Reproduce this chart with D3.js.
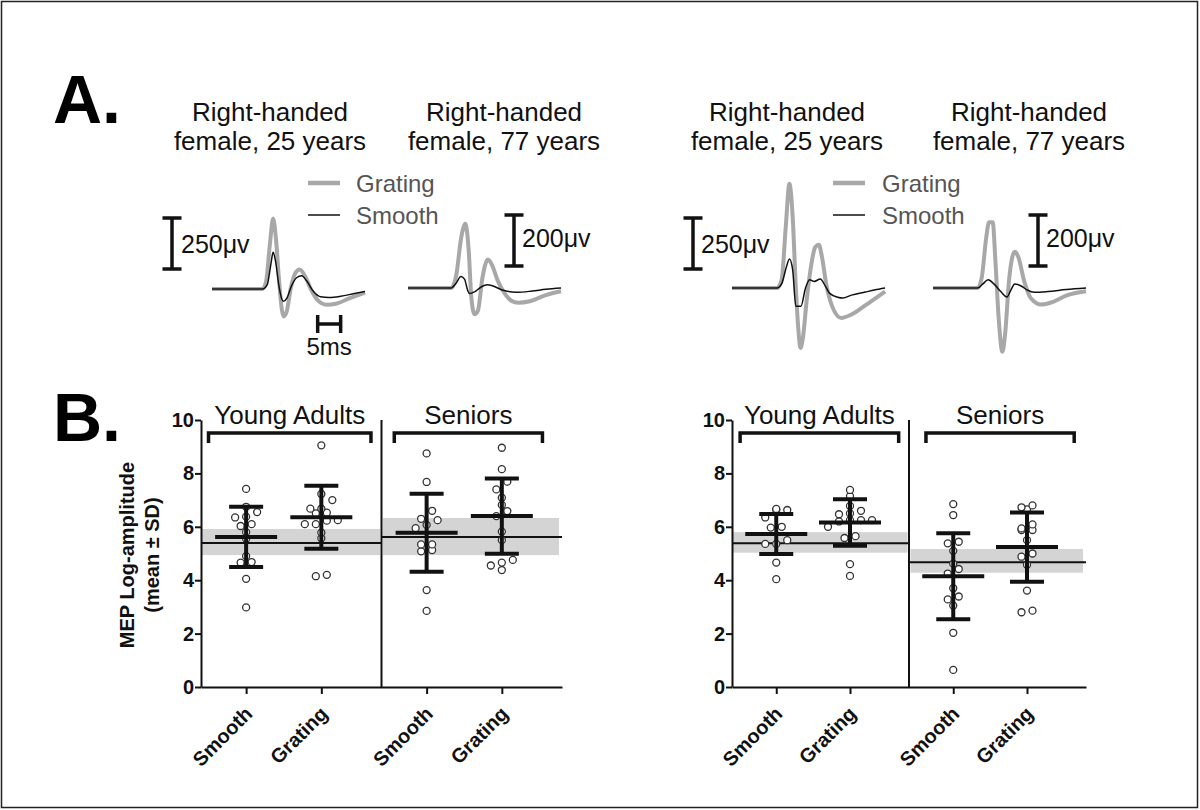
<!DOCTYPE html>
<html><head><meta charset="utf-8">
<script src="https://cdn.jsdelivr.net/npm/d3@7"></script>
<style>
body{margin:0;background:#fff}
svg{display:block}
text{font-family: Arial, "Liberation Sans", sans-serif}
</style>
</head><body>
<svg id="c" width="1200" height="810"></svg>
<script>
// ---------------- DATA ----------------
// Panel A: example MEP traces, [time ms, amplitude µV]
const traceTitles = [["Right-handed","female, 25 years"],["Right-handed","female, 77 years"],["Right-handed","female, 25 years"],["Right-handed","female, 77 years"]];
const scaleBarValues = [250, 200, 250, 200];
const scaleBarLabels = ["250\u03bcv","200\u03bcv","250\u03bcv","200\u03bcv"];
const timeBarMs = 5;
const timeBarLabel = "5ms";
const legendLabels = ["Grating","Smooth"];

const traceYoungLeftGrating = [[0,0],[11,0],[11.8,40],[12.6,220],[13.3,345],[13.9,250],[14.6,40],[15.2,-100],[15.6,-135],[16.2,-115],[17.2,10],[18.2,80],[19.1,95],[20.2,65],[21.5,0],[23,-55],[24.9,-77],[27,-72],[30,-45],[33.3,-17]];
const traceYoungLeftSmooth = [[0,0],[11,0],[12,20],[12.8,120],[13.3,180],[13.8,140],[14.6,10],[15.2,-50],[15.6,-60],[16.3,-45],[17.3,15],[18.4,55],[19.5,65],[20.6,40],[22,-10],[23.6,-38],[25.5,-42],[28,-36],[31,-22],[33.3,-12]];
const traceSeniorLeftGrating = [[0,0],[9.4,0],[10.5,50],[11.6,200],[12.5,252],[13.2,150],[13.8,-40],[14.5,-103],[15.2,-90],[16.2,40],[17.4,112],[18.3,90],[19.5,30],[21,-20],[22.5,-50],[24,-58],[26.5,-52],[30,-28],[33.3,-13]];
const traceSeniorLeftSmooth = [[0,0],[9.4,0],[10.5,20],[11.5,45],[12.3,35],[13.0,-10],[13.4,-22],[14.5,-15],[16,5],[17.2,13],[18.5,8],[20.5,-8],[23.6,-17],[27,-12],[30,-5],[33.3,0]];
const traceYoungRightGrating = [[0,0],[9.8,0],[10.8,40],[11.7,300],[12.5,511],[13.2,350],[13.9,0],[14.5,-220],[14.9,-294],[15.4,-250],[16.3,-50],[17.3,120],[18.1,200],[18.9,212],[19.6,150],[20.5,20],[21.8,-90],[23.8,-147],[26,-130],[29,-85],[33.3,-17]];
const traceYoungRightSmooth = [[0,0],[9.8,0],[10.8,20],[11.8,100],[12.5,142],[13.2,90],[13.9,-90],[15.0,-90],[16.0,0],[16.9,41],[17.9,32],[19.2,44],[20.3,10],[21.2,-25],[23.0,-45],[24.1,-49],[26,-35],[29,-20],[31,-10],[33.3,0]];
const traceSeniorRightGrating = [[0,0],[9.7,0],[10.6,40],[11.6,200],[12.2,258],[13.0,258],[13.6,100],[14.3,-120],[15.1,-250],[15.7,-180],[16.6,40],[17.8,142],[18.6,120],[19.8,30],[21.3,-40],[23.6,-65],[26,-55],[29,-30],[33.3,-13]];
const traceSeniorRightSmooth = [[0,0],[9.7,0],[10.8,15],[12.0,32],[13.3,15],[14.8,-15],[16.1,-35],[16.9,-10],[17.8,16],[19.2,8],[20.5,-8],[22.1,-17],[25,-14],[29,-6],[33.3,0]];

// Panel B: MEP log-amplitude
const groupNames = ["Young Adults","Seniors"];
const conditionNames = ["Smooth","Grating"];
const yTickValues = [0,2,4,6,8,10];
const yTitle = ["MEP Log-amplitude","(mean \u00b1 SD)"];

const leftYoungSmooth  = [7.42,6.75,6.55,6.38,6.35,6.1,6.03,5.8,5.55,4.9,4.68,4.66,4.05,2.98];
const leftYoungGrating = [9.05,7.23,7.0,6.68,6.68,6.53,6.5,6.23,6.25,6.1,6.1,5.78,5.57,4.15,4.2];
const leftSeniorSmooth = [8.75,7.68,6.6,6.3,6.25,6.07,5.95,5.34,5.34,5.13,5.08,3.63,2.85];
const leftSeniorGrating= [8.96,8.16,7.69,7.4,7.09,6.82,6.59,6.4,5.82,5.5,4.76,4.66,4.55,4.38];
const leftMeans = [5.62,6.36,5.78,6.40];
const leftSDs   = [1.13,1.18,1.46,1.41];
const leftGroupMeans = [5.39,5.62];
const leftGroupLow   = [4.94,4.94];
const leftGroupHigh  = [5.92,6.33];

const rightYoungSmooth  = [6.63,6.67,6.63,6.35,6.0,5.97,5.5,5.36,5.36,4.66,4.04];
const rightYoungGrating = [7.38,7.15,6.78,6.6,6.47,6.5,6.25,6.2,6.25,6.25,5.58,5.65,4.6,4.16,6.0];
const rightSeniorSmooth = [6.85,6.44,5.38,5.44,5.1,4.62,4.42,4.25,3.7,3.28,3.39,3.05,2.03,0.64];
const rightSeniorGrating= [6.73,6.65,6.8,6.09,5.94,5.88,5.88,5.5,4.88,5.0,4.58,3.61,2.8,2.86];
const rightMeans = [5.73,6.16,4.15,5.24];
const rightSDs   = [0.75,0.87,1.61,1.30];
const rightGroupMeans = [5.38,4.67];
const rightGroupLow   = [5.03,4.28];
const rightGroupHigh  = [5.80,5.17];

// ---------------- DRAW ----------------
const svg = d3.select("#c");
svg.append("rect").attr("x",1.5).attr("y",1.5).attr("width",1196).attr("height",806)
  .attr("fill","none").attr("stroke","#222").attr("stroke-width",1.5);

svg.append("text").attr("x",53).attr("y",123).attr("font-size",68).attr("font-weight","bold").text("A.");
svg.append("text").attr("x",53).attr("y",441).attr("font-size",68).attr("font-weight","bold").text("B.");

// ---- Panel A ----
const traceSets = [
  {g: traceYoungLeftGrating,  s: traceYoungLeftSmooth,  left:212, base:289, cx:270, barX:172, barBottom:269, labX:181, labY:253, timeBar:true},
  {g: traceSeniorLeftGrating, s: traceSeniorLeftSmooth, left:408, base:288, cx:504, barX:514, barBottom:266, labX:522, labY:247, timeBar:false},
  {g: traceYoungRightGrating, s: traceYoungRightSmooth, left:732, base:288, cx:787, barX:693, barBottom:269, labX:701, labY:253, timeBar:false},
  {g: traceSeniorRightGrating,s: traceSeniorRightSmooth,left:933, base:288, cx:1029,barX:1038,barBottom:266, labX:1046,labY:247, timeBar:false}
];
traceSets.forEach((ts, i) => {
  const x = d3.scaleLinear().domain([0,33.3]).range([ts.left, ts.left+153]);
  const y = d3.scaleLinear().domain([0, scaleBarValues[i]]).range([ts.base, ts.base-51]);
  const line = d3.line().x(d=>x(d[0])).y(d=>y(d[1])).curve(d3.curveMonotoneX);
  svg.append("path").attr("d", line(ts.g)).attr("fill","none").attr("stroke","#a8a8a8").attr("stroke-width",4).attr("stroke-linejoin","round");
  svg.append("path").attr("d", line(ts.s)).attr("fill","none").attr("stroke","#111").attr("stroke-width",1.5);
  traceTitles[i].forEach((t,k)=>{
    svg.append("text").attr("x",ts.cx).attr("y",121+k*29).attr("text-anchor","middle").attr("font-size",26).attr("fill","#111").text(t);
  });
  const len = y(0) - y(scaleBarValues[i]);
  const top = ts.barBottom - len;
  const sb = svg.append("g").attr("stroke","#111").attr("stroke-width",3.5);
  sb.append("line").attr("x1",ts.barX).attr("x2",ts.barX).attr("y1",top).attr("y2",ts.barBottom);
  sb.append("line").attr("x1",ts.barX-9.5).attr("x2",ts.barX+9.5).attr("y1",top).attr("y2",top);
  sb.append("line").attr("x1",ts.barX-9.5).attr("x2",ts.barX+9.5).attr("y1",ts.barBottom).attr("y2",ts.barBottom);
  svg.append("text").attr("x",ts.labX).attr("y",ts.labY).attr("font-size",25).attr("fill","#111").text(scaleBarLabels[i]);
  if (ts.timeBar) {
    const x0 = x(23), x1 = x(23+timeBarMs), yb = 324;
    const tb = svg.append("g").attr("stroke","#111").attr("stroke-width",3.5);
    tb.append("line").attr("x1",x0).attr("x2",x1).attr("y1",yb).attr("y2",yb);
    tb.append("line").attr("x1",x0).attr("x2",x0).attr("y1",yb-9).attr("y2",yb+9);
    tb.append("line").attr("x1",x1).attr("x2",x1).attr("y1",yb-9).attr("y2",yb+9);
    svg.append("text").attr("x",(x0+x1)/2).attr("y",355).attr("text-anchor","middle").attr("font-size",24).attr("fill","#111").text(timeBarLabel);
  }
});
[{x:308, tx:356},{x:833, tx:882}].forEach(L=>{
  svg.append("line").attr("x1",L.x).attr("x2",L.x+32).attr("y1",183).attr("y2",183).attr("stroke","#a8a8a8").attr("stroke-width",4.5);
  svg.append("line").attr("x1",L.x).attr("x2",L.x+32).attr("y1",215).attr("y2",215).attr("stroke","#111").attr("stroke-width",1.5);
  svg.append("text").attr("x",L.tx).attr("y",192).attr("font-size",24).attr("fill","#555").text(legendLabels[0]);
  svg.append("text").attr("x",L.tx).attr("y",224).attr("font-size",24).attr("fill","#555").text(legendLabels[1]);
});

// ---- Panel B ----
const catPos = [0.6, 1.6, 3.0, 4.0];
const dividerPos = 2.4;
const bandStart = [0, 2.42], bandEnd = [2.38, 4.76];
const lineStart = [0, 2.4], lineEnd = [2.4, 4.8];

function swarm(values, spacing) {
  const sorted = values.slice().sort((a,b)=>a-b);
  const bins = d3.groups(sorted, v => Math.round(v/0.36));
  const out = [];
  bins.forEach(([k, vs]) => {
    vs.forEach((v,i)=> out.push({v, dx: (i-(vs.length-1)/2)*spacing}));
  });
  return out;
}

const FONT = "Arial, 'Liberation Sans', sans-serif";
function drawChart(cfg) {
  const x = d3.scaleLinear().domain([0,4.8]).range([cfg.x0, cfg.x1]);
  const y = d3.scaleLinear().domain([0,10]).range([687, 420]);
  const g = svg.append("g");
  groupNames.forEach((name, i) => {
    g.append("rect").attr("x", x(bandStart[i])).attr("width", x(bandEnd[i]) - x(bandStart[i]))
      .attr("y", y(cfg.gHigh[i])).attr("height", y(cfg.gLow[i]) - y(cfg.gHigh[i])).attr("fill","#d4d4d4");
  });
  groupNames.forEach((name, i) => {
    g.append("line").attr("x1", x(lineStart[i])).attr("x2", x(lineEnd[i]))
      .attr("y1", y(cfg.gMean[i])).attr("y2", y(cfg.gMean[i])).attr("stroke","#111").attr("stroke-width",2);
  });
  g.append("line").attr("x1", x(dividerPos)).attr("x2", x(dividerPos)).attr("y1", y(10)).attr("y2", y(0))
    .attr("stroke","#111").attr("stroke-width",2);
  cfg.series.forEach((vals, i) => {
    swarm(vals, 11).forEach(p => {
      g.append("circle").attr("cx", x(catPos[i]) + p.dx).attr("cy", y(p.v)).attr("r",3.5)
        .attr("fill","#fff").attr("stroke","#333").attr("stroke-width",1.3);
    });
  });
  cfg.means.forEach((m, i) => {
    const cx = x(catPos[i]);
    const lo = m - cfg.sds[i], hi = m + cfg.sds[i];
    const eb = g.append("g").attr("stroke","#111").attr("stroke-width",4);
    eb.append("line").attr("x1",cx).attr("x2",cx).attr("y1",y(lo)).attr("y2",y(hi));
    eb.append("line").attr("x1",cx-17).attr("x2",cx+17).attr("y1",y(lo)).attr("y2",y(lo));
    eb.append("line").attr("x1",cx-17).attr("x2",cx+17).attr("y1",y(hi)).attr("y2",y(hi));
    eb.append("line").attr("x1",cx-31).attr("x2",cx+31).attr("y1",y(m)).attr("y2",y(m));
  });
  const ya = g.append("g").attr("transform", `translate(${cfg.x0},0)`)
    .call(d3.axisLeft(y).tickValues(yTickValues).tickSize(6).tickSizeOuter(0).tickPadding(1).tickFormat(d3.format("d")));
  ya.select(".domain").attr("stroke","#111").attr("stroke-width",2);
  ya.selectAll(".tick line").attr("stroke","#111").attr("stroke-width",2);
  ya.selectAll(".tick text").attr("font-size",20).attr("font-weight","bold").attr("fill","#111")
    .attr("font-family",FONT);
  const xa = g.append("g").attr("transform", `translate(0,${y(0)})`)
    .call(d3.axisBottom(x).tickValues(catPos).tickSize(7).tickSizeOuter(0).tickFormat((d,i)=>conditionNames[i%2]));
  xa.select(".domain").attr("stroke","#111").attr("stroke-width",2);
  xa.selectAll(".tick line").attr("stroke","#111").attr("stroke-width",2);
  xa.selectAll(".tick text").attr("font-size",20).attr("font-weight","bold").attr("fill","#111")
    .attr("font-family",FONT)
    .attr("x",0).attr("y",0).attr("dy",0).attr("text-anchor","end")
    .attr("transform","translate(7,28) rotate(-45)");
  cfg.brackets.forEach((b, i) => {
    const y0 = 433;
    g.append("path").attr("d", `M${x(b[0])},${y0+10}V${y0}H${x(b[1])}V${y0+10}`)
      .attr("fill","none").attr("stroke","#111").attr("stroke-width",3.5);
    g.append("text").attr("x",(x(b[0])+x(b[1]))/2).attr("y",424).attr("text-anchor","middle")
      .attr("font-size",26).attr("fill","#111").text(groupNames[i]);
  });
  if (cfg.title) {
    yTitle.forEach((t,k)=>{
      g.append("text").attr("transform",`translate(${134+k*25},555) rotate(-90)`).attr("text-anchor","middle")
        .attr("font-size",20).attr("font-weight","bold").attr("fill","#111").text(t);
    });
  }
}

drawChart({x0:201, x1:562, series:[leftYoungSmooth,leftYoungGrating,leftSeniorSmooth,leftSeniorGrating],
  means:leftMeans, sds:leftSDs, gMean:leftGroupMeans, gLow:leftGroupLow, gHigh:leftGroupHigh,
  brackets:[[0.1,2.26],[2.57,4.54]], title:true});
drawChart({x0:732, x1:1086, series:[rightYoungSmooth,rightYoungGrating,rightSeniorSmooth,rightSeniorGrating],
  means:rightMeans, sds:rightSDs, gMean:rightGroupMeans, gLow:rightGroupLow, gHigh:rightGroupHigh,
  brackets:[[0.11,2.26],[2.63,4.64]], title:false});
</script>
</body></html>
